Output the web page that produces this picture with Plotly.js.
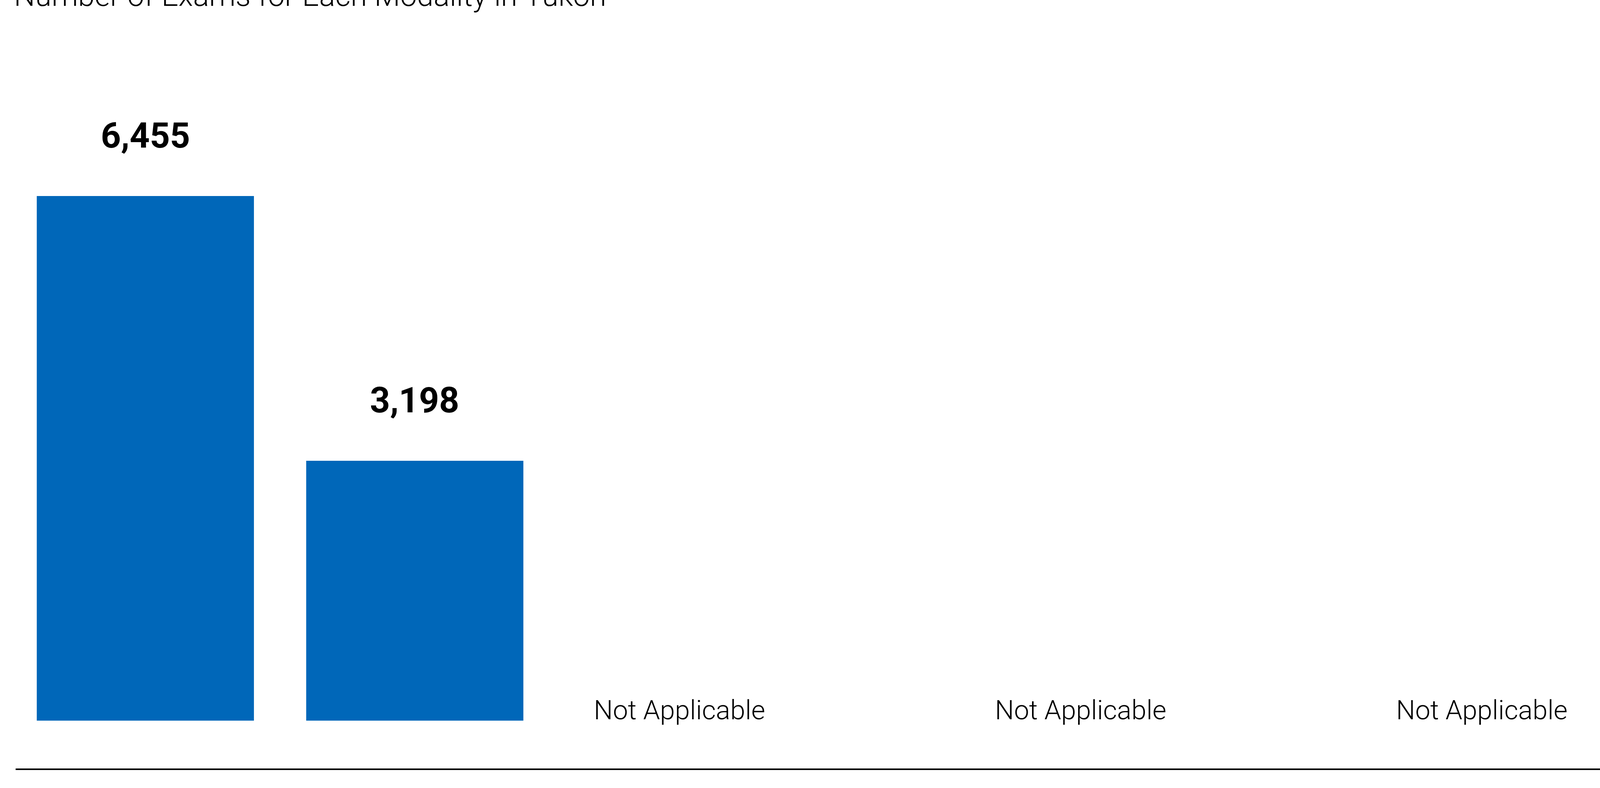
<!DOCTYPE html>
<html>
<head>
<meta charset="utf-8">
<script src="https://cdn.plot.ly/plotly-3.0.1.min.js"></script>
<style>html,body{margin:0;padding:0;background:#fff;overflow:hidden;}</style>
</head>
<body>
<div id="chart"></div>
<script>
// Data
const modalities = ["CT", "MRI"];
const modalityX = [0, 1];
const examCounts = [6455, 3198];
const naModalities = ["SPECT", "SPECT-CT", "PET-CT"];
const naX = [1.983, 3.471, 4.960];
const naLabel = "Not Applicable";
const chartTitle = "Number of Exams for Each Modality in Yukon";

const barColor = "#0067B9";

// Fit the drawing to the actual viewport (reference designed at 4279x2018)
const W = window.innerWidth || 4279;
const H = window.innerHeight || 2018;
const sx = W / 4279, sy = H / 2018, sf = Math.min(sx, sy);

const trace = {
  type: "bar",
  x: modalityX,
  y: examCounts,
  customdata: modalities,
  width: 0.806,
  marker: {color: barColor, line: {width: 0}},
  hoverinfo: "none",
  showlegend: false
};

const annotations = [];
examCounts.forEach((v, i) => {
  annotations.push({
    x: modalityX[i], y: v, xref: "x", yref: "y",
    text: v.toLocaleString("en-US"),
    showarrow: false, xanchor: "center", yanchor: "bottom",
    yshift: 100 * sy,
    font: {family: "Roboto", size: 94 * sf, weight: 700, color: "#000"}
  });
});
naX.forEach((x, i) => {
  annotations.push({
    x: x, y: 0, xref: "x", yref: "y",
    text: naLabel,
    showarrow: false, xanchor: "center", yanchor: "bottom",
    yshift: -15 * sy,
    font: {family: "Roboto", size: 72 * sf, weight: 300, color: "#000"}
  });
});

const layout = {
  width: W, height: H,
  paper_bgcolor: "#fff", plot_bgcolor: "#fff",
  margin: {l: 42 * sx, r: 0, t: 100 * sy, b: 50 * sy, pad: 0},
  title: {
    text: chartTitle,
    xref: "container", yref: "container",
    x: 37 / 4279, xanchor: "left",
    y: 1 - 15 / 2018, yanchor: "bottom",
    font: {family: "Roboto", size: 80 * sf, weight: 300, color: "#000"}
  },
  xaxis: {
    type: "linear",
    range: [-0.4815, 5.399],
    showgrid: false, zeroline: false, showticklabels: false, ticks: "",
    showline: true, linecolor: "#000", linewidth: 4 * sy
  },
  yaxis: {
    range: [-588.6, 8386.7],
    showgrid: false, zeroline: false, showticklabels: false, ticks: "",
    showline: false
  },
  annotations: annotations,
  font: {family: "Roboto"}
};

Plotly.newPlot("chart", [trace], layout, {staticPlot: true, displayModeBar: false});
</script>
</body>
</html>
